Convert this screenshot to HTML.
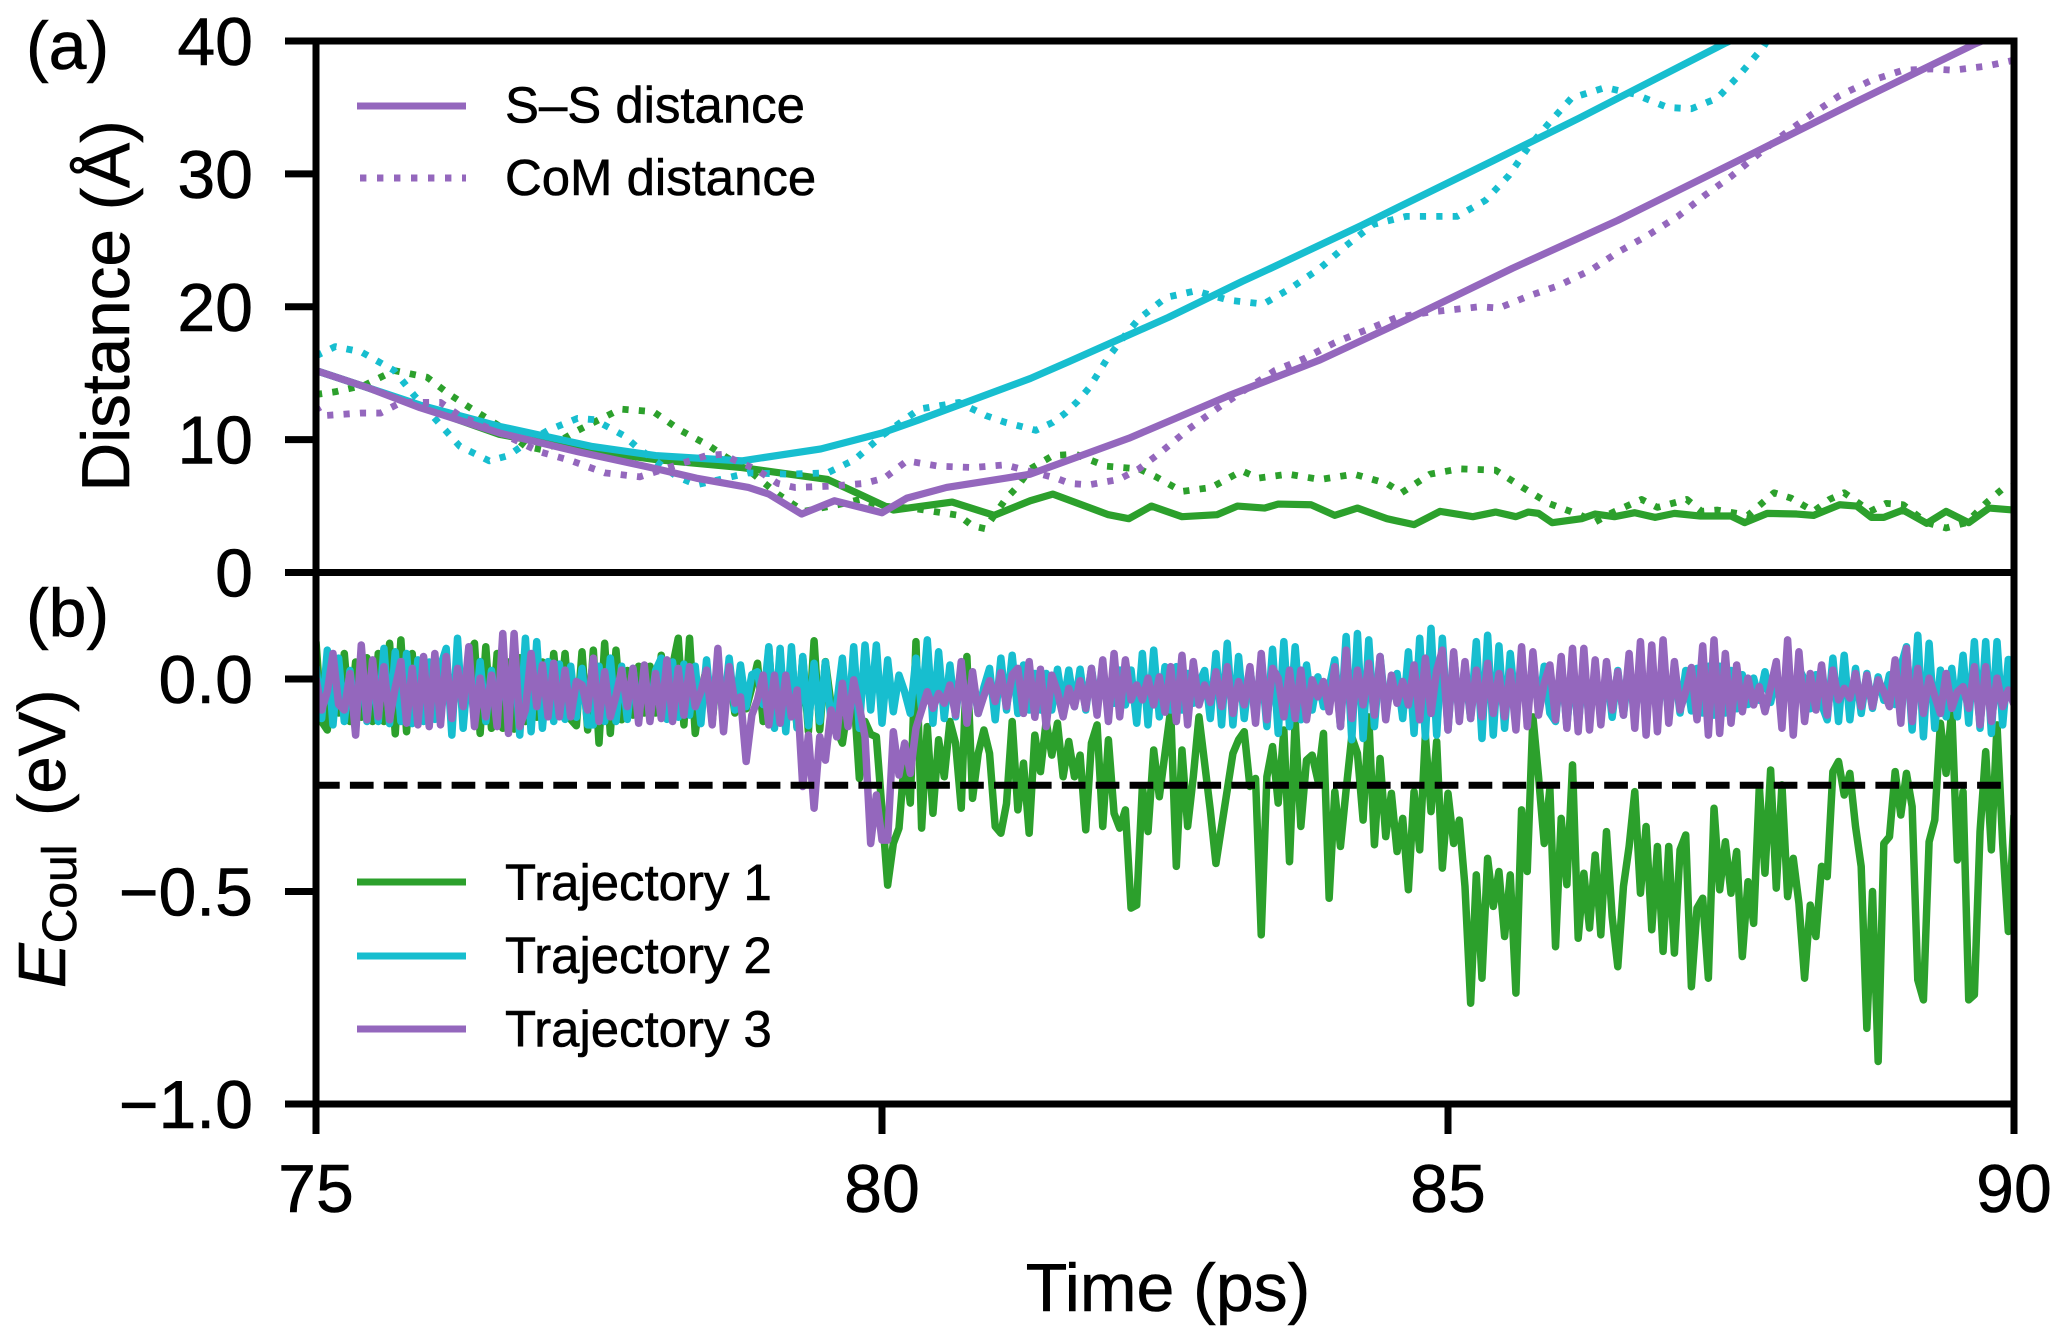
<!DOCTYPE html>
<html lang="en">
<head>
<meta charset="utf-8">
<title>Distance and Coulomb energy vs time</title>
<style>
html,body{margin:0;padding:0;background:#fff;}
svg{display:block;}
text{font-family:"Liberation Sans",Arial,sans-serif;fill:#000;stroke:#000;stroke-width:0.6px;}
</style>
</head>
<body>
<svg id="chart" xmlns="http://www.w3.org/2000/svg" width="2067" height="1342" viewBox="0 0 2067 1342">
  <defs>
    <clipPath id="clip-a"><rect x="316" y="41" width="1698" height="531.5"/></clipPath>
    <clipPath id="clip-b"><rect x="316" y="572.5" width="1698" height="531.5"/></clipPath>
  </defs>
  <g id="series-a" clip-path="url(#clip-a)"></g>
  <g id="series-b" clip-path="url(#clip-b)"></g>
  <rect x="316" y="41" width="1698" height="531.5" fill="none" stroke="#000" stroke-width="7"/>
  <rect x="316" y="572.5" width="1698" height="531.5" fill="none" stroke="#000" stroke-width="7"/>
  <g id="ticks"></g>

  <text x="26" y="69" font-size="68">(a)</text>
  <text x="26" y="636" font-size="68">(b)</text>
  <text transform="translate(129,306) rotate(-90)" font-size="67.5" text-anchor="middle">Distance (Å)</text>
  <text transform="translate(65,988) rotate(-90)" font-size="67"><tspan font-style="italic">E</tspan><tspan font-size="48" dy="11">Coul</tspan><tspan dy="-11" dx="10"> (eV)</tspan></text>
  <text x="1168" y="1311" font-size="68" text-anchor="middle">Time (ps)</text>

  <g>
    <line x1="357" y1="106" x2="466" y2="106" stroke="#9467bd" stroke-width="7"/>
    <text x="505" y="122.5" font-size="50.9">S–S distance</text>
    <line x1="360" y1="178" x2="466" y2="178" stroke="#9467bd" stroke-width="7" stroke-dasharray="6.4 10.6"/>
    <text x="505" y="195" font-size="50.9">CoM distance</text>
  </g>
  <g>
    <line x1="357" y1="882" x2="466" y2="882" stroke="#2ca02c" stroke-width="7"/>
    <text x="505" y="900" font-size="50.9">Trajectory 1</text>
    <line x1="357" y1="956" x2="466" y2="956" stroke="#17becf" stroke-width="7"/>
    <text x="505" y="973" font-size="50.9">Trajectory 2</text>
    <line x1="357" y1="1029" x2="466" y2="1029" stroke="#9467bd" stroke-width="7"/>
    <text x="505" y="1046.5" font-size="50.9">Trajectory 3</text>
  </g>
</svg>
<script>
// ---- tick data ----
const timeTicks = [75, 80, 85, 90];
const distanceTicks = [0, 10, 20, 30, 40];
const energyTicks = [0, -0.5, -1];
const energyTickLabels = ["0.0", "\u22120.5", "\u22121.0"];
const thresholdEnergy = -0.25;

// ---- panel (a): S-S distances (solid), Å ----
const ssTimes1 = [75,75.46,75.92,76.62,77.31,78,78.76,79.52,79.8,80.1,80.62,80.99,81.31,81.51,82,82.18,82.38,82.65,82.96,83.14,83.38,83.5,83.79,84,84.2,84.46,84.7,84.93,85.22,85.42,85.6,85.71,85.8,85.92,86.18,86.3,86.47,86.65,86.83,87,87.23,87.5,87.62,87.82,88.08,88.23,88.46,88.61,88.74,88.85,89.02,89.23,89.4,89.6,89.78,90];
const ssDist1 = [15.2,13.9,12.5,10.4,9.3,8.5,7.9,7,5.9,4.7,5.3,4.3,5.4,5.9,4.35,4.05,5,4.2,4.35,5,4.85,5.15,5.1,4.3,4.85,4.05,3.6,4.6,4.2,4.55,4.2,4.55,4.45,3.75,4.05,4.4,4.2,4.5,4.15,4.45,4.25,4.25,3.75,4.45,4.4,4.3,5.1,5,4.15,4.15,4.7,3.7,4.6,3.75,4.85,4.7];
const ssTimes2 = [75,75.46,75.92,76.62,77.43,78,78.76,79.46,80,80.33,81.31,81.66,82.53,83.18,83.41,84.23,85.4,86.16,87.44,88];
const ssDist2 = [15.2,13.9,12.6,11,9.5,8.8,8.4,9.3,10.5,11.5,14.6,15.9,19.2,21.9,22.8,26.1,31,34.2,39.8,42];
const ssTimes3 = [75,75.46,75.92,76.62,77.31,78.01,78.36,78.82,79,79.29,79.58,80,80.22,80.57,81.09,81.31,82.18,83.06,83.87,84.7,85.57,86.5,87.73,88.6,89.66,90];
const ssDist3 = [15.2,13.9,12.4,10.5,9.1,7.8,7.1,6.4,5.9,4.4,5.4,4.5,5.6,6.4,7.1,7.4,10.1,13.3,16,19.3,22.9,26.5,31.7,35.4,39.8,41];

// ---- panel (a): CoM distances (dotted), Å ----
const comTimes1 = [75,75.17,75.43,75.69,75.98,76.18,76.36,76.68,76.85,77.02,77.29,77.43,77.69,77.98,78.22,78.48,78.62,78.85,79.08,79.31,79.61,79.81,80,80.3,80.68,80.8,80.91,81.09,81.2,81.31,81.51,81.71,81.98,82.27,82.42,82.65,82.91,83.18,83.32,83.59,83.87,84.17,84.46,84.59,84.84,85.1,85.42,85.66,85.89,86.16,86.3,86.45,86.71,86.85,87.11,87.24,87.38,87.65,87.88,88.03,88.23,88.37,88.5,88.73,88.87,89.02,89.23,89.4,89.58,89.75,89.9,90];
const comDist1 = [13.4,13.6,14.1,15.2,14.7,13.4,12.4,10.7,9.5,9.2,10.6,11.2,12.3,12.1,10.7,9.5,8.7,7.5,5.9,4.6,5.1,5.5,5,4.8,4.3,3.5,3.3,5.5,6.5,7.8,8.8,8.9,8,7.8,7.2,6.1,6.4,7.65,7.1,7.4,7,7.4,6.7,6,7.4,7.8,7.7,6.4,5.2,4.35,3.8,4.5,5.5,4.9,5.5,4.6,4.7,4.3,6,5.6,4.6,5.5,6,4.6,5.2,5.1,3.75,3.35,3.75,5.2,6.3,6.5];
const comTimes2 = [75,75.17,75.4,75.69,75.87,76.07,76.27,76.53,76.7,76.85,77.05,77.31,77.46,77.72,77.84,78.19,78.36,78.62,78.82,79.17,79.52,79.76,80,80.33,80.68,80.92,81.09,81.36,81.51,81.62,81.73,81.83,81.99,82.17,82.27,82.51,82.77,83.06,83.37,83.61,83.87,84.1,84.34,84.63,85.08,85.33,85.54,85.71,85.9,86.09,86.39,86.65,86.94,87.15,87.38,87.58,87.79,87.88];
const comDist2 = [16.3,17,16.6,15.2,13.3,11.4,9.5,8.4,8.8,9.7,10.7,11.6,11.5,10.3,9.4,7.2,6.6,7.1,7.5,7.4,7.5,8.5,10.3,12.3,12.8,11.8,11.3,10.7,11.3,12,12.9,13.9,16.1,18.1,19.1,20.7,21.2,20.5,20.2,21.4,22.9,24.6,26.2,26.8,26.8,28,29.9,32,33.9,35.7,36.5,36,35,34.9,35.7,37.5,39.6,40.9];
const comTimes3 = [75,75.05,75.4,75.57,75.75,76.1,76.27,76.68,76.97,77.26,77.55,77.86,78.45,78.6,78.71,78.88,79.08,79.23,79.55,79.84,80.02,80.22,80.5,80.8,81.09,81.31,81.54,81.66,81.83,82.09,82.27,82.47,82.71,82.97,83.2,83.47,83.73,84,84.29,84.55,84.84,85.28,85.45,85.71,85.98,86.27,86.5,86.77,87.03,87.27,87.5,87.73,87.97,88.2,88.46,88.73,89.02,89.28,89.46,89.75,89.97,90];
const comDist3 = [12.5,11.8,12,12,12.8,12.8,11.8,10.3,9.1,8.4,7.5,7.2,8.8,8.9,8.4,7.8,6.7,6.4,6.5,6.7,7.1,8.4,8,7.9,8.1,7.6,7.1,6.7,6.6,7,7.8,9.1,10.8,12.4,13.7,15.2,16.1,17.3,18.3,19.2,19.6,20,19.9,20.8,21.6,22.8,24.1,25.4,26.8,28.4,29.8,31.4,33,34.4,35.9,37,37.8,37.9,37.8,38.1,38.5,38.6];

// ---- panel (b): Coulomb energy, meV, evenly sampled over 75-90 ps ----
const energyTraj1 = [
88,-100,-120,40,-80,60,-100,40,-90,50,
-100,60,-100,84,-129,92,-124,60,-100,50,
-95,50,-90,30,-85,40,-90,60,84,-128,
76,-116,60,-116,40,-118,50,-100,30,-90,
40,-85,60,-80,60,-95,-110,64,-120,68,
-151,84,-128,68,-96,20,-85,30,-80,30,
-80,56,-85,30,96,-108,96,-128,-30,25,
-100,30,-90,20,-80,-20,-70,-20,37,-100,
72,-110,40,-110,40,-115,50,-124,90,-120,
41,-60,-120,-151,-60,-30,-234,-100,-130,-136,
-308,-485,-387,-351,-183,-292,88,-351,-112,-316,
-143,-230,-100,-151,-304,53,-281,-175,-120,-175,
-347,-363,-293,-100,-308,-198,-363,-132,-218,-100,
-179,-104,-230,-147,-230,-179,-355,-151,-108,-347,
-143,-316,-351,-308,-539,-532,-253,-359,-167,-277,
-175,-73,-441,-167,-347,-230,-89,-198,-308,-434,
-347,-261,-175,-143,-124,-253,-234,-602,-230,-159,
-292,-120,-430,-96,-347,-191,-179,-238,-128,-516,
-265,-394,-261,-136,-175,-332,-89,-390,-187,-371,
-269,-406,-328,-496,-265,-402,-132,-312,-147,-445,
-269,-387,-332,-488,-763,-461,-704,-422,-535,-453,
-606,-461,-739,-308,-453,-89,-230,-387,-257,-630,
-328,-484,-202,-610,-457,-586,-414,-602,-359,-559,
-677,-488,-394,-265,-504,-347,-590,-394,-641,-394,
-645,-402,-367,-724,-539,-516,-704,-304,-496,-383,
-504,-406,-653,-477,-575,-253,-457,-214,-492,-249,
-512,-422,-528,-704,-532,-606,-441,-465,-218,-194,
-273,-222,-347,-441,-822,-500,-900,-387,-371,-218,
-320,-222,-300,-708,-755,-383,-332,-104,-222,-73,
-426,-265,-755,-743,-359,-171,-402,-108,-387,-594,
-320];
const energyTraj2 = [
30,-93,68,-108,49,-100,20,-90,30,-100,
29,-100,72,-105,64,-100,60,-105,45,-100,
40,-95,30,72,-132,96,-116,45,-100,41,
-100,20,-90,40,-95,60,-132,96,-124,88,
-116,41,-100,35,-95,30,-90,25,-108,-108,
30,-100,49,-100,30,-95,25,-90,20,-85,
20,49,-95,40,-90,35,-85,30,-105,45,
-95,40,-85,49,-73,33,-65,10,17,-60,
76,-116,72,-124,76,-115,53,-110,37,-100,
40,-100,-60,49,-110,76,-116,80,-73,80,
-104,45,-77,9,-30,-81,49,-70,92,-104,
64,-93,33,-89,29,-81,5,-81,-20,25,
-96,49,-73,56,-81,33,-73,13,-73,13,
-73,23,-65,21,-65,23,-73,25,-65,9,
-25,-57,21,-61,21,-104,60,-108,68,-89,
29,-73,29,-73,13,-57,-10,20,-93,60,
-108,84,-108,53,-93,25,-81,37,-112,70,
-128,88,-112,76,-96,33,-73,5,-65,-20,
45,-112,100,-143,107,-140,92,-112,53,-73,
-20,13,-93,64,-128,96,-136,119,-132,96,
-120,56,-81,21,-93,88,-140,103,-132,78,
-116,60,-73,21,-60,40,-70,30,-80,-100,
41,-112,35,-112,30,-100,25,-95,25,-90,
20,-85,25,-90,30,-90,30,-85,30,-85,
25,-80,20,-75,25,-80,30,-85,30,-80,
20,-70,10,-60,2,-50,17,-55,10,-75,
20,-85,25,-2,-70,10,-60,-96,49,-100,
56,-96,25,-81,13,-69,5,-50,10,-60,
30,76,-120,103,-136,84,-116,21,-89,25,
-89,56,-104,88,-116,88,-128,88,-108,46,
-60];
const energyTraj3 = [
2,-73,-30,60,-60,-73,13,-132,80,-96,
45,-89,29,-96,-20,41,-104,25,-108,53,
-112,60,-108,53,-93,25,-65,76,-112,2,
-89,9,-112,107,-128,107,-112,-73,60,-65,
33,-89,37,-89,21,-89,-6,-14,-73,49,
-100,17,-89,-40,21,-65,25,-104,33,-100,
13,-93,45,-100,25,-85,29,-65,-30,21,
-108,72,-124,29,-57,-42,-194,-85,-49,9,
-108,9,-104,9,-89,-26,-253,-132,-304,-136,
-191,-73,-136,-10,-112,-2,-65,-136,-387,-273,
-379,-379,-124,-226,-151,-222,-116,-73,-30,-69,
-34,-57,-14,-85,41,-104,17,-81,-40,-4,
-53,15,-65,10,25,-81,41,-90,23,-112,
9,-30,-89,-22,-65,-4,-69,25,-85,45,
-100,60,-89,45,-49,-14,-49,2,-61,5,
-78,29,-100,56,-108,41,-61,-14,-55,17,
-65,29,-81,-6,-61,29,-104,60,-96,25,
2,-89,21,-93,21,-96,-2,-42,-6,-77,
29,-112,68,-93,21,-61,37,-85,53,-96,
9,-57,-6,-61,33,-96,49,-81,20,68,
-120,64,-100,41,-93,21,-89,37,-81,13,
-89,17,-120,76,-112,64,-85,-10,33,-96,
53,-116,72,-124,72,-120,45,-108,41,-73,
17,-85,60,-116,88,-132,80,-124,92,-104,
41,-73,-30,27,-96,78,-132,92,-128,60,
-104,33,-77,2,-61,-18,-77,-20,41,-116,
92,-132,64,-100,13,-73,33,-85,21,-49,
-22,-45,13,-65,9,-65,-2,-30,-65,45,
-104,72,-100,25,-81,2,-40,-81,13,-69,
-30,-18,-69,29,-108,29,-100,2,-65,-26,
-60];

// ---- axis functions ----
const X0 = 316, X1 = 2014, T0 = 75, T1 = 90;
const YA0 = 572.5, YA40 = 41;
const YB0 = 679, YBm1 = 1104;
function xAxis(t) { return X0 + (t - T0) * (X1 - X0) / (T1 - T0); }
function yDist(d) { return YA0 + d * (YA40 - YA0) / 40; }
function yEnergy(e) { return YB0 + (-e) * (YBm1 - YB0); }

const NS = 'http://www.w3.org/2000/svg';
function make(tag, parent) {
  const el = document.createElementNS(NS, tag);
  parent.appendChild(el);
  return el;
}
function pathD(xs, ys) {
  let d = '';
  for (let i = 0; i < xs.length; i++) {
    d += (i ? 'L' : 'M') + xs[i].toFixed(2) + ' ' + ys[i].toFixed(2);
  }
  return d;
}

const GREEN = '#2ca02c', CYAN = '#17becf', PURPLE = '#9467bd';
const seriesA = document.getElementById('series-a');
const seriesB = document.getElementById('series-b');
const ticks = document.getElementById('ticks');

function distanceLine(ts, ds, color, dotted) {
  const p = make('path', seriesA);
  p.setAttribute('d', pathD(ts.map(xAxis), ds.map(yDist)));
  p.setAttribute('fill', 'none');
  p.setAttribute('stroke', color);
  p.setAttribute('stroke-width', dotted ? '6.8' : '7.2');
  p.setAttribute('stroke-linejoin', 'round');
  if (dotted) p.setAttribute('stroke-dasharray', '6.2 10.2');
  return p;
}
function energyLine(vals, color) {
  const n = vals.length;
  const xs = vals.map(function (v, i) { return xAxis(T0 + i * (T1 - T0) / (n - 1)); });
  const ys = vals.map(function (v) { return yEnergy(v / 1000); });
  const p = make('path', seriesB);
  p.setAttribute('d', pathD(xs, ys));
  p.setAttribute('fill', 'none');
  p.setAttribute('stroke', color);
  p.setAttribute('stroke-width', '7.5');
  p.setAttribute('stroke-linejoin', 'round');
  return p;
}

// panel (a) series
const c1 = distanceLine(comTimes1, comDist1, GREEN, true);


const s1 = distanceLine(ssTimes1, ssDist1, GREEN, false);


const c2 = distanceLine(comTimes2, comDist2, CYAN, true);


const s2 = distanceLine(ssTimes2, ssDist2, CYAN, false);


const c3 = distanceLine(comTimes3, comDist3, PURPLE, true);


const s3 = distanceLine(ssTimes3, ssDist3, PURPLE, false);



// panel (b) series
const e1 = energyLine(energyTraj1, GREEN);


const e2 = energyLine(energyTraj2, CYAN);


const e3 = energyLine(energyTraj3, PURPLE);



// threshold
const th = make('line', seriesB);
th.setAttribute('x1', xAxis(T0));
th.setAttribute('x2', xAxis(T1));
th.setAttribute('y1', yEnergy(thresholdEnergy));
th.setAttribute('y2', yEnergy(thresholdEnergy));
th.setAttribute('stroke', '#000');
th.setAttribute('stroke-width', '7');
th.setAttribute('stroke-dasharray', '23.7 10.2');



// ticks
function hTick(y) {
  const l = make('line', ticks);
  l.setAttribute('x1', 285);
  l.setAttribute('x2', X0);
  l.setAttribute('y1', y);
  l.setAttribute('y2', y);
  l.setAttribute('stroke', '#000');
  l.setAttribute('stroke-width', '7');
  return l;
}
function hLabel(y, str) {
  const t = make('text', ticks);
  t.setAttribute('x', 253);
  t.setAttribute('y', y + 24);
  t.setAttribute('font-size', '68');
  t.setAttribute('text-anchor', 'end');
  t.textContent = str;
  return t;
}
distanceTicks.forEach(function (d) {
  const l = hTick(yDist(d));
  
  
  const t = hLabel(yDist(d), String(d));
  
  
});
energyTicks.forEach(function (e, i) {
  const l = hTick(yEnergy(e));
  
  
  const t = hLabel(yEnergy(e), energyTickLabels[i]);
  
  
});
timeTicks.forEach(function (v) {
  const l = make('line', ticks);
  l.setAttribute('x1', xAxis(v));
  l.setAttribute('x2', xAxis(v));
  l.setAttribute('y1', YBm1);
  l.setAttribute('y2', 1134);
  l.setAttribute('stroke', '#000');
  l.setAttribute('stroke-width', '7');
  
  
  const t = make('text', ticks);
  t.setAttribute('x', xAxis(v));
  t.setAttribute('y', 1212);
  t.setAttribute('font-size', '68');
  t.setAttribute('text-anchor', 'middle');
  t.textContent = String(v);
  
  
});
</script>
</body>
</html>
